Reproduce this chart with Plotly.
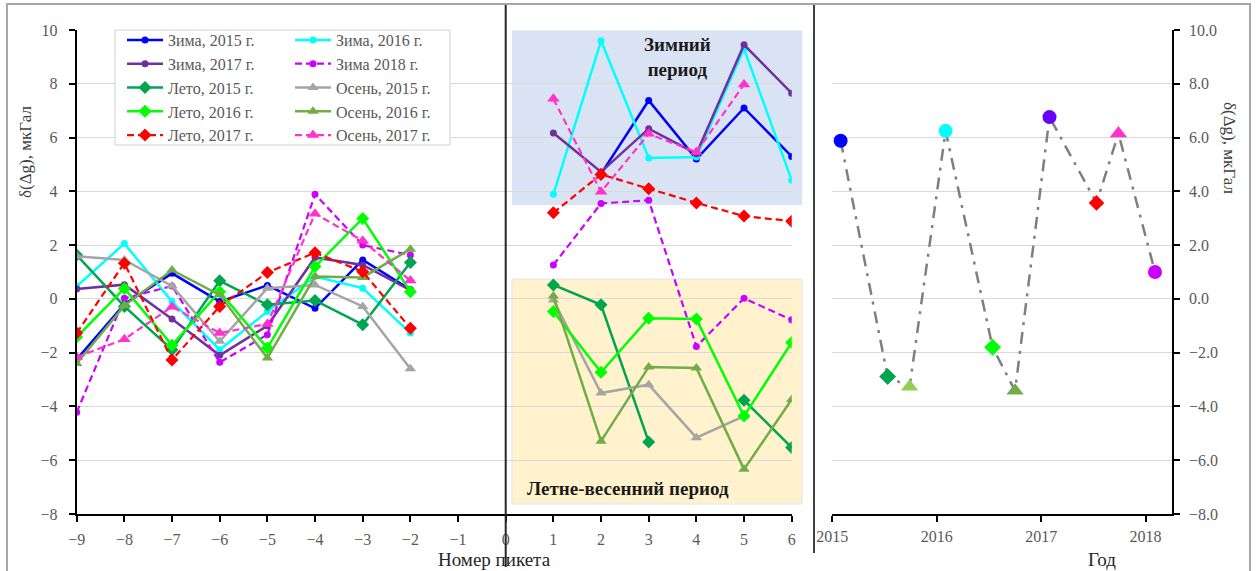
import plotly.graph_objects as go

W, H = 1256, 571

# ---------------- data ----------------
pickets_left = [-9, -8, -7, -6, -5, -4, -3, -2]
pickets_right = [1, 2, 3, 4, 5, 6]

zima2015_left = [-2.25, -0.2, 0.95, -0.1, 0.5, -0.35, 1.45, 0.35]
zima2015_right = [None, 4.65, 7.38, 5.2, 7.1, 5.3]
zima2016_left = [0.47, 2.06, -0.1, -1.89, -0.47, 0.83, 0.4, -1.27]
zima2016_right = [3.89, 9.6, 5.24, 5.28, 9.3, 4.41]
zima2017_left = [0.37, 0.53, -0.75, -2.1, -1.0, 1.54, 1.26, 0.33]
zima2017_right = [6.17, 4.72, 6.33, 5.4, 9.45, 7.65]
zima2018_left = [-4.22, 0.02, 0.48, -2.36, -1.33, 3.89, 2.0, 1.63]
zima2018_right = [1.26, 3.55, 3.67, -1.77, 0.02, -0.78]
leto2015_left = [1.63, -0.28, -1.89, 0.67, -0.22, -0.06, -0.96, 1.35]
leto2015_right = [0.52, -0.22, -5.32, None, -3.77, -5.53]
leto2016_left = [-1.42, 0.39, -1.72, 0.27, -1.83, 1.2, 2.99, 0.27]
leto2016_right = [-0.47, -2.73, -0.72, -0.75, -4.36, -1.62]
leto2017_left = [-1.27, 1.33, -2.27, -0.28, 0.98, 1.72, 1.01, -1.09]
leto2017_right = [3.2, 4.63, 4.1, 3.57, 3.08, 2.89]
osen2015_left = [1.59, 1.45, 0.48, -1.58, 0.4, 0.52, -0.28, -2.6]
osen2015_right = [-0.04, -3.5, -3.19, -5.16, -4.36, None]
osen2016_left = [-2.4, -0.25, 1.07, 0.15, -2.2, 0.83, 0.8, 1.85]
osen2016_right = [0.11, -5.29, -2.53, -2.57, -6.34, -3.74]
osen2017_left = [-2.16, -1.5, -0.29, -1.27, -0.93, 3.17, 2.16, 0.68]
osen2017_right = [7.44, 3.98, 6.14, 5.46, 7.97, None]

# right panel: survey epochs and mean values
epoch_years = [2015.08, 2015.53, 2015.74, 2016.085, 2016.535, 2016.75,
               2017.08, 2017.53, 2017.74, 2018.09]
epoch_values = [5.88, -2.89, -3.27, 6.25, -1.8, -3.42, 6.76, 3.57, 6.15, 1.0]

y_ticks = [-8, -6, -4, -2, 0, 2, 4, 6, 8, 10]
x_ticks_left = list(range(-9, 7))
year_ticks = [2015, 2016, 2017, 2018]

# ---------------- styles ----------------
FONT = "Liberation Serif"
GRAY_TXT = "#595959"

series = [
    # name, left, right, color, symbol, size, dash, legend
    ("Зима, 2015 г.", zima2015_left, zima2015_right, "#0000ff", "circle", 7, "solid", "legend"),
    ("Зима, 2016 г.", zima2016_left, zima2016_right, "#00ffff", "circle", 7, "solid", "legend2"),
    ("Зима, 2017 г.", zima2017_left, zima2017_right, "#7030a0", "circle", 7, "solid", "legend"),
    ("Зима 2018 г.", zima2018_left, zima2018_right, "#cc00ff", "circle", 7, "dash", "legend2"),
    ("Лето, 2015 г.", leto2015_left, leto2015_right, "#00a550", "diamond", 10, "solid", "legend"),
    ("Осень, 2015 г.", osen2015_left, osen2015_right, "#a5a5a5", "triangle-up", 10, "solid", "legend2"),
    ("Лето, 2016 г.", leto2016_left, leto2016_right, "#00ff00", "diamond", 10, "solid", "legend"),
    ("Осень, 2016 г.", osen2016_left, osen2016_right, "#70ad47", "triangle-up", 10, "solid", "legend2"),
    ("Лето, 2017 г.", leto2017_left, leto2017_right, "#ff0000", "diamond", 10, "dash", "legend"),
    ("Осень, 2017 г.", osen2017_left, osen2017_right, "#ff33cc", "triangle-up", 11, "dash", "legend2"),
]

epoch_colors = ["#0000ff", "#00a550", "#92d050", "#00ffff", "#00ff00", "#70ad47",
                "#6600ff", "#ff0000", "#ff33cc", "#cc00ff"]
epoch_symbols = ["circle", "diamond", "triangle-up", "circle", "diamond", "triangle-up",
                 "circle", "diamond", "triangle-up", "circle"]
epoch_sizes = [14, 13, 15, 14, 13, 15, 14, 12, 15, 14]

fig = go.Figure()

for name, yl, yr, col, sym, size, dash, lg in series:
    xs = pickets_left + [None] + pickets_right
    ys = yl + [None] + yr
    fig.add_trace(go.Scatter(
        x=xs, y=ys, name=name, mode="lines+markers", legend=lg,
        line=dict(color=col, width=2.5 if dash == "solid" else 2.2,
                  dash="7px,4px" if dash == "dash" else "solid"),
        marker=dict(color=col, symbol=sym, size=size, line=dict(width=0), opacity=1),
        connectgaps=False, xaxis="x", yaxis="y",
    ))

fig.add_trace(go.Scatter(
    x=epoch_years, y=epoch_values, mode="lines", showlegend=False,
    line=dict(color="#7f7f7f", width=2.5, dash="12px,7px,3px,7px"),
    xaxis="x2", yaxis="y2",
))
fig.add_trace(go.Scatter(
    x=epoch_years, y=epoch_values, mode="markers", showlegend=False,
    marker=dict(color=epoch_colors, symbol=epoch_symbols, size=epoch_sizes,
                line=dict(width=0), opacity=1),
    xaxis="x2", yaxis="y2",
))

# ---------------- layout geometry ----------------
def px(xp):
    return xp / W

def py(yp):
    return 1 - yp / H

XL_DOM = [px(76.7), px(791.7)]
XR_DOM = [px(832.3), px(1171.7)]
Y_DOM = [py(514), py(30)]
XL_RANGE = [-9, 6]
XR_RANGE = [2015, 2018.25]
Y_RANGE = [-8, 10]

def xdom(v):
    return (v - XL_RANGE[0]) / (XL_RANGE[1] - XL_RANGE[0])

def ydom(v):
    return (v - Y_RANGE[0]) / (Y_RANGE[1] - Y_RANGE[0])

axis_common = dict(showline=True, linecolor="black", linewidth=2, ticks="outside",
                   ticklen=6, tickwidth=2, tickcolor="black", zeroline=False,
                   automargin=False,
                   tickfont=dict(family=FONT, size=16, color=GRAY_TXT))

LEG_FONT = dict(family=FONT, size=16, color=GRAY_TXT)

fig.update_layout(
    width=W, height=H,
    margin=dict(l=0, r=0, t=0, b=0, autoexpand=False),
    paper_bgcolor="white", plot_bgcolor="rgba(0,0,0,0)",
    font=dict(family=FONT, size=15, color=GRAY_TXT),
    xaxis=dict(domain=XL_DOM, range=XL_RANGE, tickvals=x_ticks_left, showgrid=False,
               anchor="y", ticklabelstandoff=4, **axis_common),
    yaxis=dict(domain=Y_DOM, range=Y_RANGE, tickvals=y_ticks, showgrid=True,
               gridcolor="#d9d9d9", gridwidth=1, anchor="x", ticklabelstandoff=8,
               **axis_common),
    xaxis2=dict(domain=XR_DOM, range=XR_RANGE, tickvals=year_ticks, showgrid=False,
                anchor="y2", ticklabelstandoff=1, **axis_common),
    yaxis2=dict(domain=Y_DOM, range=Y_RANGE, tickvals=y_ticks, tickformat=".1f",
                side="right", showgrid=True, gridcolor="#d9d9d9", gridwidth=1,
                anchor="x2", ticklabelstandoff=6, **axis_common),
    legend=dict(x=px(122), y=py(23), xanchor="left", yanchor="top",
                bgcolor="rgba(0,0,0,0)", borderwidth=0, itemwidth=36,
                font=LEG_FONT, tracegroupgap=0),
    legend2=dict(x=px(290), y=py(23), xanchor="left", yanchor="top",
                 bgcolor="rgba(0,0,0,0)", borderwidth=0, itemwidth=36,
                 font=LEG_FONT, tracegroupgap=0),
)

shapes = []
# shaded period backgrounds (left panel)
shapes.append(dict(type="rect", xref="x domain", yref="y domain",
                   x0=xdom(0.13), x1=xdom(6.22), y0=ydom(3.49), y1=ydom(9.98),
                   fillcolor="#dae3f3", line=dict(width=0), layer="below"))
shapes.append(dict(type="rect", xref="x domain", yref="y domain",
                   x0=xdom(0.13), x1=xdom(6.22), y0=ydom(-7.63), y1=ydom(0.74),
                   fillcolor="#fff2cc", line=dict(color="#dfe6ee", width=1), layer="below"))
# legend box
shapes.append(dict(type="rect", xref="paper", yref="paper",
                   x0=px(115), x1=px(450), y0=py(145), y1=py(30),
                   fillcolor="white", line=dict(color="#d0d0d0", width=1), layer="above"))
# separators
x_sep = XL_DOM[0] + xdom(0) * (XL_DOM[1] - XL_DOM[0])
shapes.append(dict(type="line", xref="paper", yref="paper", x0=x_sep, x1=x_sep,
                   y0=py(567), y1=py(4), line=dict(color="#262626", width=2), layer="above"))
shapes.append(dict(type="line", xref="paper", yref="paper", x0=px(814), x1=px(814),
                   y0=py(553), y1=py(4), line=dict(color="#404040", width=2), layer="above"))
# outer frame
shapes.append(dict(type="path", xref="paper", yref="paper",
                   path=f"M {px(7)},{py(580)} L {px(7)},{py(4)} L {px(1250)},{py(4)} L {px(1250)},{py(580)}",
                   line=dict(color="#a6a6a6", width=2), layer="above"))
fig.update_layout(shapes=shapes)

def label(text, x, y, size, color, xref="paper", yref="paper", angle=0):
    return dict(text=text, x=x, y=y, xref=xref, yref=yref, xanchor="center",
                yanchor="middle", textangle=angle, showarrow=False, align="center",
                font=dict(family=FONT, size=size, color=color))

ann = [
    label("<b>Зимний<br>период</b>", 3.6, 9.0, 19, "#1a1a1a", "x", "y"),
    label("<b>Летне-весенний период</b>", 2.57, -7.04, 19, "#1a1a1a", "x", "y"),
    label("δ(Δg), мкГал", px(26), py(152), 17, "#404040", angle=-90),
    label("δ(Δg), мкГал", px(1230), py(148), 17, "#404040", angle=90),
    label("Номер пикета", px(494), py(559), 19, "#262626"),
    label("Год", px(1102), py(559), 19, "#262626"),
]
fig.update_layout(annotations=ann)

fig.write_html("out.html", config={"displayModeBar": False},
               post_script="document.body.style.margin='0px';document.body.style.padding='0px';")
